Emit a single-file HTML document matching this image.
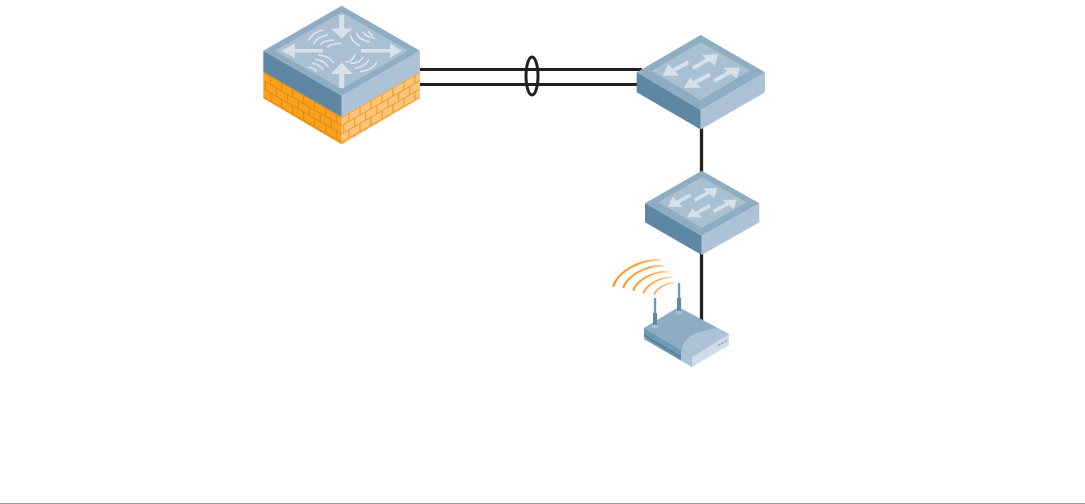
<!DOCTYPE html>
<html><head><meta charset="utf-8"><style>
html,body{margin:0;padding:0;background:#fff}
svg{display:block}
</style></head><body>
<svg width="1085" height="504" viewBox="0 0 1085 504" xmlns="http://www.w3.org/2000/svg">
<defs>
<pattern id="bl" width="22" height="16.6" patternUnits="userSpaceOnUse" patternTransform="matrix(1,0.574,0,1,263.3,71.7)">
<rect width="22" height="16.6" fill="#f9a21f"/>
<path d="M0 0.5H22M0 8.8H22M7.3 0V8.3M18.3 0V8.3M2 8.3V16.6M13 8.3V16.6" stroke="#de8a12" stroke-width="1.1" fill="none"/>
</pattern>
<pattern id="br" width="22" height="16.6" patternUnits="userSpaceOnUse" patternTransform="matrix(1,-0.574,0,1,341.7,116.7)">
<rect width="22" height="16.6" fill="#fdc67c"/>
<path d="M0 0.5H22M0 8.8H22M7.3 0V8.3M18.3 0V8.3M2 8.3V16.6M13 8.3V16.6" stroke="#ee9a26" stroke-width="1.1" fill="none"/>
</pattern>
<linearGradient id="w1" gradientUnits="userSpaceOnUse" x1="613" y1="288" x2="664" y2="260"><stop offset="0" stop-color="#f7941d"/><stop offset=".65" stop-color="#f9a640"/><stop offset="1" stop-color="#fde3c0"/></linearGradient>
<linearGradient id="w2" gradientUnits="userSpaceOnUse" x1="623" y1="288" x2="667" y2="266"><stop offset="0" stop-color="#f7941d"/><stop offset=".65" stop-color="#f9a640"/><stop offset="1" stop-color="#fde3c0"/></linearGradient>
<linearGradient id="w3" gradientUnits="userSpaceOnUse" x1="633" y1="291" x2="670" y2="271"><stop offset="0" stop-color="#f7941d"/><stop offset=".65" stop-color="#f9a640"/><stop offset="1" stop-color="#fde3c0"/></linearGradient>
<linearGradient id="w4" gradientUnits="userSpaceOnUse" x1="643" y1="293" x2="673" y2="277"><stop offset="0" stop-color="#f89a28"/><stop offset=".65" stop-color="#fab060"/><stop offset="1" stop-color="#fde3c0"/></linearGradient>
<linearGradient id="w5" gradientUnits="userSpaceOnUse" x1="654" y1="295" x2="675" y2="282"><stop offset="0" stop-color="#f9a640"/><stop offset=".65" stop-color="#fbbb78"/><stop offset="1" stop-color="#fde3c0"/></linearGradient>
</defs>

<!-- connectors -->
<g stroke="#231f20" stroke-width="3" fill="none">
<path d="M420 69.5H642M420 84.5H640"/>
<ellipse cx="532" cy="76" rx="6" ry="19"/>
<path d="M701.5 128V172M701.5 254V320" stroke-width="3.3"/>
</g>

<!-- firewall -->
<polygon points="263.3,71.7 341.7,116.7 341.7,144.5 263.3,98.3" fill="url(#bl)"/>
<polygon points="420,71.7 341.7,116.7 341.7,144.5 420,98.3" fill="url(#br)"/>
<polygon points="263.3,50.7 341.7,95.7 341.7,116.7 263.3,71.7" fill="#5e87a3"/>
<polygon points="420,50.7 341.7,95.7 341.7,116.7 420,71.7" fill="#adc2d6"/>
<polygon points="341.7,5.7 420,50.7 341.7,95.7 263.3,50.7" fill="#8fadc2"/>
<polygon points="341.7,12.3 408.3,50.7 341.7,89 275,50.7" fill="#a9bfd2"/>
<g fill="#d6e1ea" stroke="none">
<rect x="339.2" y="15" width="5" height="14"/><polygon points="331,28.5 352.5,28.5 341.7,38.5"/>
<rect x="295" y="48.9" width="28" height="3.6"/><polygon points="295,43.3 295,58 281.5,50.7"/>
<rect x="361" y="48.9" width="29" height="3.6"/><polygon points="390,43.3 390,58 402,50.7"/>
<rect x="339.2" y="74" width="5" height="14"/><polygon points="331,74 352.5,74 341.7,62.5"/>
</g>
<g fill="none" stroke="#d9e3ec" stroke-width="1.7">
<path d="M308.3 40.7Q313 32 323.3 30M313.3 44Q318.3 36 328.3 35M320 45Q324.3 40 334.3 40M326.7 47.3Q331 43.3 341 43.3"/>
<path d="M350 35Q352 42 360 46M356.7 33Q358.3 40 370 41.7M363 31.7Q365.7 37 375 38M368.3 31Q370.7 35 373.3 36"/>
<path d="M318.3 55Q330 56 333.3 63.3M315 59.3Q325 60.7 328.3 67.3M311.7 63.3Q320 64 323.3 70M308.3 67.3Q314.3 67.7 316.7 71.7"/>
<path d="M345 61.7Q351.7 62.7 355 54.3M350 63.3Q360 63.3 363.3 56.7M355 68.3Q365 66.7 369 59.3M360 71.7Q373.3 70 376.7 61.7"/>
</g>

<!-- switch 1 -->
<polygon points="636.7,72.3 700.7,110 700.7,129.5 636.7,92.3" fill="#5e87a3"/>
<polygon points="765,72.3 700.7,110 700.7,129.5 765,92.3" fill="#adc2d6"/>
<polygon points="700.7,35 765,72.3 700.7,110 636.7,72.3" fill="#8fadc2"/>
<polygon points="700.7,42.3 750.3,70.5 700.7,100 651.7,71" fill="#a9bfd2"/>
<g id="arr1">
<path d="M688.3 62.3L672 71M692.7 68.3L709 59M710 74.3L693.5 83.5M714 81L731 71.5" fill="none" stroke="#d6e1ea" stroke-width="4"/>
<g fill="#d6e1ea">
<polygon points="662.7,75.7 668.3,64.3 679.3,75.7"/>
<polygon points="718.3,54.3 701.7,55 715,65.7"/>
<polygon points="684,87.7 690,77.7 701,87.7"/>
<polygon points="740,67.7 723.3,67.7 736.7,78.3"/>
</g>
</g>

<!-- switch 2 -->
<polygon points="645,203.3 701.7,235.7 701.7,255 645,222.3" fill="#5e87a3"/>
<polygon points="759.3,203.3 701.7,235.7 701.7,255 759.3,222.3" fill="#adc2d6"/>
<polygon points="701.7,170.7 759.3,203.3 701.7,235.7 645,203.3" fill="#8fadc2"/>
<polygon points="701.7,177.3 746.7,202.3 701.7,227.7 658.3,202.3" fill="#a9bfd2"/>
<g transform="translate(701.7 202.7) scale(.89 .88) translate(-700.7 -71)">
<path d="M688.3 62.3L672 71M692.7 68.3L709 59M710 74.3L693.5 83.5M714 81L731 71.5" fill="none" stroke="#d6e1ea" stroke-width="4"/>
<g fill="#d6e1ea">
<polygon points="662.7,75.7 668.3,64.3 679.3,75.7"/>
<polygon points="718.3,54.3 701.7,55 715,65.7"/>
<polygon points="684,87.7 690,77.7 701,87.7"/>
<polygon points="740,67.7 723.3,67.7 736.7,78.3"/>
</g>
</g>

<!-- wifi -->
<g fill="none">
<path d="M613.3 286.7C617 272 640 259 660 260" stroke="url(#w1)" stroke-width="2.2"/>
<path d="M623.3 288C626 277 645 265 663.3 266" stroke="url(#w2)" stroke-width="2"/>
<path d="M633.3 290.7C636 281 652 271 668.3 271.7" stroke="url(#w3)" stroke-width="1.8"/>
<path d="M643.3 293.3C646 285 660 277 671.7 277.3" stroke="url(#w4)" stroke-width="1.7"/>
<path d="M654 295C656 289 665 283 674 282.7" stroke="url(#w5)" stroke-width="1.6"/>
</g>

<!-- AP -->
<polygon points="644,328 692,357 692,367 644,339.3" fill="#8fadc2"/>
<polygon points="644,328 681,350 681,358 644,335" fill="#6f98b3"/>
<polygon points="644,334.5 681,356.5 681,357.7 644,336" fill="#4a7693"/>
<polygon points="648,338.5 681,358 681,360.5 646,339" fill="#6490ac"/>
<polygon points="729,334 692,357 692,367 729,345" fill="#cfdce8"/>
<polygon points="681,350 692,357 692,367 681,360.5" fill="#adc2d6"/>
<polygon points="678.5,307 729,334 692,357 644,328" fill="#8fadc2"/>
<path d="M682 350C683 342 688 336 698 332.5C705 330 712 329 718 328L729 334L692 357Z" fill="#adc2d6"/>
<path d="M718 345.5L727 340.5" stroke="#7f98ab" stroke-width="1" stroke-dasharray="3 1"/>
<g>
<rect x="653.9" y="298" width="2.3" height="16" fill="#6d97b4"/>
<rect x="653" y="313" width="4" height="13" fill="#5e87a3"/>
<ellipse cx="655" cy="326.5" rx="3.5" ry="1.8" fill="#a9bfd2"/>
<rect x="677.9" y="283" width="2.3" height="16" fill="#6d97b4"/>
<rect x="677" y="298" width="4" height="14" fill="#5e87a3"/>
<ellipse cx="679" cy="312.5" rx="3.5" ry="1.8" fill="#a9bfd2"/>
</g>

<!-- footer rule -->
<rect x="0" y="503" width="1085" height="1" fill="#999"/>
</svg>
</body></html>
